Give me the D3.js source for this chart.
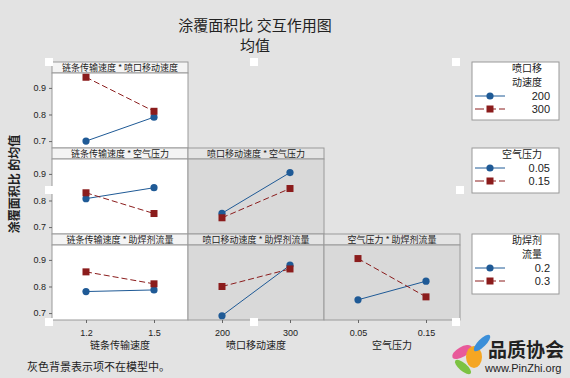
<!DOCTYPE html>
<html>
<head>
<meta charset="utf-8">
<script src="https://cdn.jsdelivr.net/npm/d3@7"></script>
<style>
  body { margin: 0; background: #e3e3e3; }
  svg { display: block; }
  text { font-family: "Noto Sans CJK SC", "Noto Sans", sans-serif; fill: #222; }
  .num { font-family: "Liberation Sans", "Noto Sans", sans-serif; }
</style>
</head>
<body>
<svg id="chart"></svg>
<script>
// factor levels (tick labels)
var chainLevels = ["1.2", "1.5"];
var nozzleLevels = ["200", "300"];
var airLevels = ["0.05", "0.15"];
var fluxLevels = ["0.2", "0.3"];

// x factors (columns) and trace factors (rows)
var colFactors = ["链条传输速度", "喷口移动速度", "空气压力"];
var rowFactors = ["喷口移动速度", "空气压力", "助焊剂流量"];
var legendTitles = [["喷口移", "动速度"], ["空气压力"], ["助焊剂", "流量"]];

// means: [low trace level, high trace level], each over the x levels
var chainNozzle = [[0.700, 0.790], [0.940, 0.812]];
var chainAir = [[0.807, 0.848], [0.829, 0.751]];
var nozzleAir = [[0.752, 0.905], [0.735, 0.845]];
var chainFlux = [[0.781, 0.787], [0.855, 0.810]];
var nozzleFlux = [[0.690, 0.880], [0.800, 0.866]];
var airFlux = [[0.750, 0.820], [0.905, 0.761]];

var yTicks = [0.7, 0.8, 0.9];

var panels = [
  {row: 0, col: 0, title: "链条传输速度 * 喷口移动速度", means: chainNozzle, inModel: true},
  {row: 1, col: 0, title: "链条传输速度 * 空气压力", means: chainAir, inModel: true},
  {row: 1, col: 1, title: "喷口移动速度 * 空气压力", means: nozzleAir, inModel: false},
  {row: 2, col: 0, title: "链条传输速度 * 助焊剂流量", means: chainFlux, inModel: true},
  {row: 2, col: 1, title: "喷口移动速度 * 助焊剂流量", means: nozzleFlux, inModel: false},
  {row: 2, col: 2, title: "空气压力 * 助焊剂流量", means: airFlux, inModel: false}
];
var xLevelsByCol = [chainLevels, nozzleLevels, airLevels];
var traceLevelsByRow = [nozzleLevels, airLevels, fluxLevels];

var W = 570, H = 378;
var left = 52, colW = 136;
var rowTop = 62, rowPitch = 86, headH = 11, plotH = 75;
var blue = "#1f5a96", red = "#8b1c1c";

var svg = d3.select("#chart").attr("width", W).attr("height", H);
svg.append("rect").attr("width", W).attr("height", H).attr("fill", "#e3e3e3");

// title
svg.append("text").attr("x", 255).attr("y", 31).attr("text-anchor", "middle")
   .style("font-size", "15px").text("涂覆面积比 交互作用图");
svg.append("text").attr("x", 255).attr("y", 51).attr("text-anchor", "middle")
   .style("font-size", "15px").text("均值");

var yScaleFor = function(r) {
  var top = rowTop + r * rowPitch + headH;
  return d3.scaleLinear().domain([0.674, 0.956]).range([top + plotH, top]);
};

panels.forEach(function(p) {
  var x0 = left + p.col * colW;
  var top = rowTop + p.row * rowPitch;
  var g = svg.append("g");
  var yScale = yScaleFor(p.row);
  var xScale = d3.scalePoint().domain(xLevelsByCol[p.col])
                 .range([x0, x0 + colW]).padding(0.5);

  // header strip
  g.append("rect").attr("x", x0).attr("y", top).attr("width", colW).attr("height", headH)
   .attr("fill", p.inModel ? "#f4f4f4" : "#e4e4e4").attr("stroke", "#9a9a9a");
  g.append("text").attr("x", x0 + colW / 2).attr("y", top + headH - 2)
   .attr("text-anchor", "middle").style("font-size", "9px").text(p.title);

  // plot area
  g.append("rect").attr("x", x0).attr("y", top + headH).attr("width", colW).attr("height", plotH)
   .attr("fill", p.inModel ? "#ffffff" : "#d9d9d9").attr("stroke", "#9a9a9a");

  var line = d3.line()
               .x(function(d, i) { return xScale(xLevelsByCol[p.col][i]); })
               .y(function(d) { return yScale(d); });

  // low level: blue solid circles
  g.append("path").attr("d", line(p.means[0])).attr("fill", "none")
   .attr("stroke", blue).attr("stroke-width", 1);
  g.selectAll("circle").data(p.means[0]).enter().append("circle")
   .attr("cx", function(d, i) { return xScale(xLevelsByCol[p.col][i]); })
   .attr("cy", function(d) { return yScale(d); })
   .attr("r", 3.6).attr("fill", blue);

  // high level: red dashed squares
  g.append("path").attr("d", line(p.means[1])).attr("fill", "none")
   .attr("stroke", red).attr("stroke-width", 1).attr("stroke-dasharray", "6,3");
  g.selectAll("rect.sq").data(p.means[1]).enter().append("rect").attr("class", "sq")
   .attr("x", function(d, i) { return xScale(xLevelsByCol[p.col][i]) - 3.5; })
   .attr("y", function(d) { return yScale(d) - 3.5; })
   .attr("width", 7).attr("height", 7).attr("fill", red);

  // y axis on first column
  if (p.col == 0) {
    var yAxis = d3.axisLeft(yScale).tickValues(yTicks).tickSize(3).tickFormat(d3.format(".1f"));
    var ag = svg.append("g").attr("transform", "translate(" + x0 + ",0)").call(yAxis);
    ag.select(".domain").remove();
    ag.selectAll("line").attr("stroke", "#666");
    ag.selectAll("text").attr("class", "num").style("font-size", "9px").attr("fill", "#222");
  }
  // x axis on bottom row
  if (p.row == 2) {
    var xAxis = d3.axisBottom(xScale).tickSize(3);
    var bg = svg.append("g").attr("transform", "translate(0," + (top + headH + plotH) + ")").call(xAxis);
    bg.select(".domain").remove();
    bg.selectAll("line").attr("stroke", "#666");
    bg.selectAll("text").attr("class", "num").style("font-size", "9px").attr("fill", "#222").attr("dy", "1.1em");
    svg.append("text").attr("x", x0 + colW / 2).attr("y", 349).attr("text-anchor", "middle")
       .style("font-size", "10px").text(colFactors[p.col]);
  }
});

// y axis title
svg.append("text").attr("transform", "translate(19,184) rotate(-90)")
   .attr("text-anchor", "middle").style("font-size", "12px").style("font-weight", "bold")
   .text("涂覆面积比 的均值");

// legends
var legendBoxes = [{y: 62, h: 58}, {y: 148, h: 45}, {y: 234, h: 60}];
legendBoxes.forEach(function(b, r) {
  var lg = svg.append("g");
  lg.append("rect").attr("x", 472).attr("y", b.y).attr("width", 87).attr("height", b.h)
    .attr("fill", "#ffffff").attr("stroke", "#9a9a9a");
  var titles = legendTitles[r];
  titles.forEach(function(t, i) {
    lg.append("text").attr("x", 542).attr("y", b.y + 10 + i * 14).attr("text-anchor", "end")
      .style("font-size", "10px").text(t);
  });
  var ey = b.y + 10 + titles.length * 14;
  traceLevelsByRow[r].forEach(function(lev, i) {
    var yy = ey - 4 + i * 13;
    var c = i == 0 ? blue : red;
    lg.append("line").attr("x1", 475).attr("x2", 505).attr("y1", yy).attr("y2", yy)
      .attr("stroke", c).attr("stroke-dasharray", i == 0 ? null : "9,3");
    if (i == 0) {
      lg.append("circle").attr("cx", 490).attr("cy", yy).attr("r", 3.6).attr("fill", c);
    } else {
      lg.append("rect").attr("x", 486.5).attr("y", yy - 3.5).attr("width", 7).attr("height", 7).attr("fill", c);
    }
    lg.append("text").attr("class", "num").attr("x", 550).attr("y", yy + 4).attr("text-anchor", "end")
      .style("font-size", "11px").text(lev);
  });
});

// selection handles
[49, 254, 456].forEach(function(hx) {
  [62, 322].forEach(function(hy) {
    svg.append("rect").attr("x", hx - 4).attr("y", hy - 4).attr("width", 8).attr("height", 8).attr("fill", "#ffffff");
  });
});
[49, 460].forEach(function(hx) {
  svg.append("rect").attr("x", hx - 4).attr("y", 186).attr("width", 8).attr("height", 8).attr("fill", "#ffffff");
});

// footnote
svg.append("text").attr("x", 27).attr("y", 371).style("font-size", "11px")
   .text("灰色背景表示项不在模型中。");

// logo
var logo = svg.append("g");
logo.append("ellipse").attr("cx", 462).attr("cy", 352).attr("rx", 5).attr("ry", 11)
    .attr("transform", "rotate(60,462,352)").attr("fill", "#e85a9a");
logo.append("ellipse").attr("cx", 474).attr("cy", 357).attr("rx", 8).attr("ry", 11)
    .attr("fill", "#f5a623");
logo.append("ellipse").attr("cx", 463).attr("cy", 367).attr("rx", 4).attr("ry", 10)
    .attr("transform", "rotate(-50,463,367)").attr("fill", "#7cc242");
logo.append("ellipse").attr("cx", 482).attr("cy", 343).attr("rx", 4).attr("ry", 11)
    .attr("transform", "rotate(45,482,343)").attr("fill", "#3b8fd9");
logo.append("text").attr("x", 488).attr("y", 357).style("font-size", "19px").style("font-weight", "bold")
    .attr("fill", "#333").text("品质协会");
logo.append("text").attr("class", "num").attr("x", 485).attr("y", 372).style("font-size", "11px")
    .attr("fill", "#333").text("www.PinZhi.org");
</script>
</body>
</html>
